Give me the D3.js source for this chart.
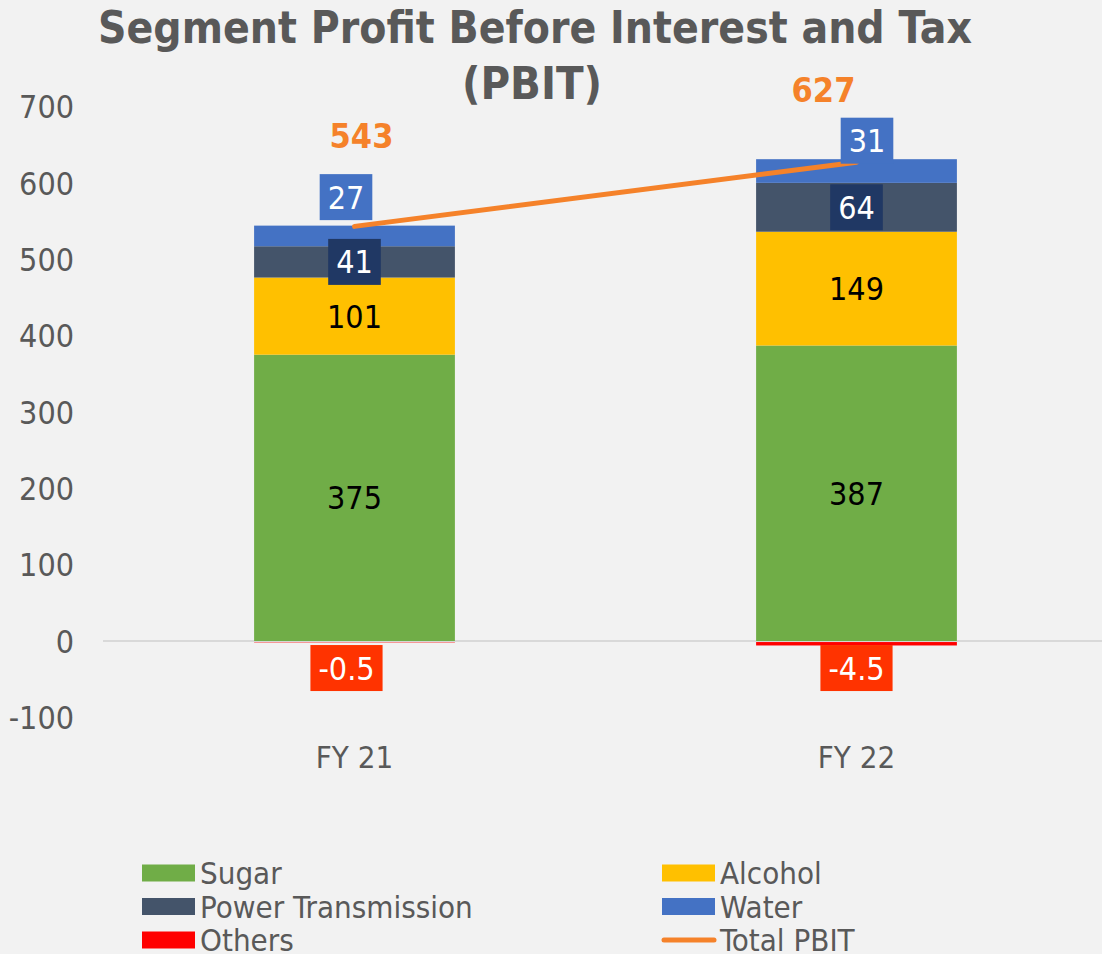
<!DOCTYPE html>
<html><head><meta charset="utf-8">
<script src="https://cdn.jsdelivr.net/npm/d3@7"></script>
<style>html,body{margin:0;padding:0;background:#F2F2F2;}svg{display:block;}</style>
</head><body>
<svg id="chart" width="1102" height="954"></svg>
<script>
const categories = ["FY 21", "FY 22"];
const sugar = [375, 387];
const alcohol = [101, 149];
const power = [41, 64];
const water = [27, 31];
const others = [-0.5, -4.5];
const totalPBIT = [543, 627];
const yTicks = [-100, 0, 100, 200, 300, 400, 500, 600, 700];

const FONT = "'Liberation Sans Narrow','Arial Narrow','DejaVu Sans Condensed',sans-serif";
const GREY = "#595959";
const colors = {Sugar:"#70AD47", Alcohol:"#FFC000", "Power Transmission":"#44546A", Water:"#4472C4", Others:"#FF0000", Total:"#F5822A"};

const svg = d3.select("#chart");
svg.append("rect").attr("width",1102).attr("height",954).attr("fill","#F2F2F2");

const x = d3.scaleBand().domain(categories).range([103.5, 1107.5]).paddingInner(0.6).paddingOuter(0.3);
const y = d3.scaleLinear().domain([-100, 700]).range([717.4, 106.5]);

// title
const title = svg.append("text").attr("text-anchor","middle").attr("fill",GREY)
  .attr("font-family",FONT).attr("font-weight","bold").attr("font-size",45);
title.append("tspan").attr("x",535).attr("y",43).attr("textLength",874).attr("lengthAdjust","spacingAndGlyphs")
  .text("Segment Profit Before Interest and Tax");
title.append("tspan").attr("x",532).attr("y",99).text("(PBIT)");

// y axis labels
const yAxis = d3.axisLeft(y).tickValues(yTicks).tickSize(0).tickPadding(0).tickFormat(d=>String(d));
const gy = svg.append("g").attr("transform","translate(74,0)").call(yAxis);
gy.select(".domain").remove();
gy.selectAll("text").attr("font-family",FONT).attr("font-size",32).attr("fill",GREY).attr("dy","0.35em");

// zero line
svg.append("line").attr("x1",103).attr("x2",1102).attr("y1",y(0)).attr("y2",y(0))
  .attr("stroke","#D9D9D9").attr("stroke-width",2);

// stacked
const seriesDefs = [
  {name:"Sugar", vals:sugar},
  {name:"Alcohol", vals:alcohol},
  {name:"Power Transmission", vals:power},
  {name:"Water", vals:water}
];
const rows = categories.map((c,i)=>{const r={cat:c}; seriesDefs.forEach(s=>r[s.name]=s.vals[i]); return r;});
const stack = d3.stack().keys(seriesDefs.map(s=>s.name))(rows);

stack.forEach(layer=>{
  svg.append("g").selectAll("rect").data(layer).join("rect")
    .attr("x",d=>x(d.data.cat)).attr("width",x.bandwidth())
    .attr("y",d=>y(d[1])).attr("height",d=>y(d[0])-y(d[1]))
    .attr("fill",colors[layer.key]);
});
// others (negative)
svg.append("g").selectAll("rect").data(categories).join("rect")
  .attr("x",c=>x(c)).attr("width",x.bandwidth())
  .attr("y",(c,i)=>y(0)+1).attr("height",(c,i)=>Math.max(0,y(others[i])-y(0)))
  .attr("fill",colors.Others);

// total line
const line = d3.line().x((d,i)=>x(categories[i])+x.bandwidth()/2).y(d=>y(d));
svg.append("path").datum(totalPBIT).attr("d",line).attr("fill","none")
  .attr("stroke",colors.Total).attr("stroke-width",5).attr("stroke-linecap","round");

const cx = c=>x(c)+x.bandwidth()/2;

function boxLabel(px, py, txt, bg, fg){
  const g = svg.append("g");
  const r = g.append("rect").attr("fill",bg);
  const t = g.append("text").attr("x",px).attr("y",py).attr("dy","0.36em").attr("text-anchor","middle")
    .attr("font-family",FONT).attr("font-size",32).attr("fill",fg).text(txt);
  const bb = t.node().getBBox();
  if(bg){ r.attr("x",bb.x-8).attr("width",bb.width+16).attr("y",py-23).attr("height",46); }
}

const waterNudge = [[-8.5,-6.5],[10.5,3.5]];
const othersNudge = [[-8,0],[0,0]];
categories.forEach((c,i)=>{
  const s0 = 0, s1 = sugar[i], a1 = s1+alcohol[i], p1 = a1+power[i], w1 = p1+water[i];
  boxLabel(cx(c), y((s0+s1)/2), sugar[i], null, "#000");
  boxLabel(cx(c), y((s1+a1)/2), alcohol[i], null, "#000");
  boxLabel(cx(c), y((a1+p1)/2), power[i], "#203864", "#fff");
  boxLabel(cx(c)+waterNudge[i][0], y(w1)-22+waterNudge[i][1], water[i], "#4472C4", "#fff");
  boxLabel(cx(c)+othersNudge[i][0], y(0)+27+othersNudge[i][1], others[i], "#FF3300", "#fff");
});

// total labels
const totalNudge = [[7,-91],[-33,-72]];
svg.append("g").selectAll("text").data(totalPBIT).join("text")
  .attr("x",(d,i)=>cx(categories[i])+totalNudge[i][0]).attr("y",(d,i)=>y(d)+totalNudge[i][1])
  .attr("dy","0.36em").attr("text-anchor","middle").attr("font-family",FONT).attr("font-weight","bold")
  .attr("font-size",34).attr("fill",colors.Total).text(d=>d);

// x axis labels
svg.append("g").selectAll("text").data(categories).join("text")
  .attr("x",c=>cx(c)).attr("y",768).attr("text-anchor","middle")
  .attr("font-family",FONT).attr("font-size",31).attr("fill",GREY).text(c=>c);

// legend
const legend = [
  {name:"Sugar", type:"rect", col:0, row:0},
  {name:"Alcohol", type:"rect", col:1, row:0},
  {name:"Power Transmission", type:"rect", col:0, row:1},
  {name:"Water", type:"rect", col:1, row:1},
  {name:"Others", type:"rect", col:0, row:2},
  {name:"Total PBIT", type:"line", col:1, row:2, key:"Total"}
];
const lg = svg.append("g");
legend.forEach(l=>{
  const lx = l.col? 662 : 142, ly = 873 + l.row*33.5;
  if(l.type==="rect") lg.append("rect").attr("x",lx).attr("y",ly-8.5).attr("width",53).attr("height",17).attr("fill",colors[l.name]);
  else lg.append("line").attr("x1",lx+2).attr("x2",lx+52).attr("y1",ly).attr("y2",ly).attr("stroke",colors[l.key]).attr("stroke-width",5).attr("stroke-linecap","round");
  lg.append("text").attr("x",lx+58).attr("y",ly).attr("dy","0.36em").attr("font-family",FONT)
    .attr("font-size",31).attr("fill",GREY).text(l.name);
});
</script>
</body></html>
